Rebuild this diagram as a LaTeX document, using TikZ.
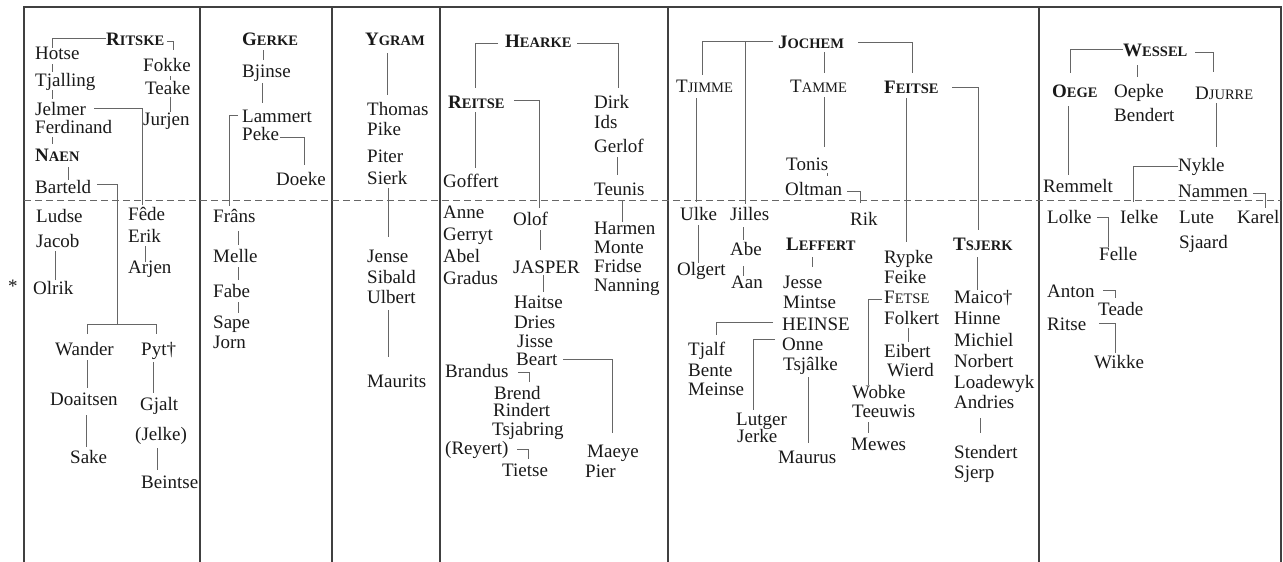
\documentclass[tikz,border=0pt]{standalone}
\usepackage{fontspec}
\setmainfont{Liberation Serif}
\newcommand\bsc[2]{\textbf{#1{\fontsize{14.5}{14.5}\selectfont #2}}}
\newcommand\rsc[2]{#1{\fontsize{14.5}{14.5}\selectfont #2}}
\newcommand\pn[3]{\node[nm] (#1) at (#2) {#3};}
\begin{document}
\begin{tikzpicture}[x=1pt,y=-1pt,
  nm/.style={anchor=base west,inner sep=0pt,font=\fontsize{19}{19}\selectfont,text=black!90},
  ln/.style={draw=black!60,line width=0.9pt},
  frame/.style={draw=black!75,line width=1.4pt},
  sep/.style={draw=black!60,line width=0.9pt,dash pattern=on 7pt off 4pt}]
\useasboundingbox (0,0) rectangle (1283,562);
% frame
\draw[frame] (24,562) -- (24,7) -- (1281,7) -- (1281,562);
\foreach \x in {200,332,440,668,1039} \draw[frame] (\x,7) -- (\x,562);
\draw[sep] (24,200) -- (1281,200);
\node[nm] (star) at (8,292) {*};
% ---------- column 1
\pn{ritske}{106,45}{\bsc{R}{ITSKE}}
\pn{hotse}{35,59}{Hotse}
\pn{tjalling}{35,86}{Tjalling}
\pn{jelmer}{35,115}{Jelmer}
\pn{ferdinand}{35,133}{Ferdinand}
\pn{naen}{35,161}{\bsc{N}{AEN}}
\pn{barteld}{35,193}{Barteld}
\pn{fokke}{143,71}{Fokke}
\pn{teake}{145,94}{Teake}
\pn{jurjen}{143,125}{Jurjen}
\pn{ludse}{36,222}{Ludse}
\pn{jacob}{36,247}{Jacob}
\pn{olrik}{33,294}{Olrik}
\pn{fede}{128,220}{Fêde}
\pn{erik}{128,242}{Erik}
\pn{arjen}{128,273}{Arjen}
\pn{wander}{55,355}{Wander}
\pn{pyt}{141,355}{Pyt†}
\pn{doaitsen}{50,405}{Doaitsen}
\pn{sake}{70,463}{Sake}
\pn{gjalt}{140,410}{Gjalt}
\pn{jelke}{135,440}{(Jelke)}
\pn{beintse}{141,488}{Beintse}
\draw[ln] (ritske.west) -| (52,48);
\draw[ln] (52,64) -- (52,72);
\draw[ln] (52,90) -- (52,99);
\draw[ln] (52,137) -- (52,144);
\draw[ln] (68,167) -- (68,180);
\draw[ln] (167,41) -| (173,50);
\draw[ln] (170,76) -- (170,80);
\draw[ln] (170,97) -- (170,112);
\draw[ln] (94,108) -| (142,205);
\draw[ln] (145,246) -- (145,262);
\draw[ln] (97,184) -| (117,324);
\draw[ln] (87,334) |- (156,324) -- (156,334);
\draw[ln] (55,251) -- (55,280);
\draw[ln] (87,360) -- (87,388);
\draw[ln] (86,415) -- (86,447);
\draw[ln] (153,362) -- (153,393);
\draw[ln] (157,448) -- (157,470);
% ---------- column 2
\pn{gerke}{242,45}{\bsc{G}{ERKE}}
\pn{bjinse}{242,77}{Bjinse}
\pn{lammert}{242,122}{Lammert}
\pn{peke}{242,140}{Peke}
\pn{doeke}{276,185}{Doeke}
\pn{frans}{213,222}{Frâns}
\pn{melle}{213,262}{Melle}
\pn{fabe}{213,297}{Fabe}
\pn{sape}{213,328}{Sape}
\pn{jorn}{213,348}{Jorn}
\draw[ln] (263,50) -- (263,60);
\draw[ln] (262,83) -- (262,103);
\draw[ln] (238,115) -| (229,206);
\draw[ln] (280,137) -| (304,165);
\draw[ln] (238,231) -- (238,245);
\draw[ln] (238,267) -- (238,280);
\draw[ln] (238,302) -- (238,313);
% ---------- column 3
\pn{ygram}{365,45}{\bsc{Y}{GRAM}}
\pn{thomas}{367,115}{Thomas}
\pn{pike}{367,135}{Pike}
\pn{piter}{367,162}{Piter}
\pn{sierk}{367,184}{Sierk}
\pn{jense}{367,262}{Jense}
\pn{sibald}{367,283}{Sibald}
\pn{ulbert}{367,303}{Ulbert}
\pn{maurits}{367,387}{Maurits}
\draw[ln] (387,53) -- (387,95);
\draw[ln] (388,188) -- (388,237);
\draw[ln] (388,310) -- (388,357);
% ---------- column 4
\pn{hearke}{505,47}{\bsc{H}{EARKE}}
\pn{reitse}{448,108}{\bsc{R}{EITSE}}
\pn{goffert}{443,187}{Goffert}
\pn{dirk}{594,108}{Dirk}
\pn{ids}{594,128}{Ids}
\pn{gerlof}{594,152}{Gerlof}
\pn{teunis}{594,195}{Teunis}
\pn{harmen}{594,234}{Harmen}
\pn{monte}{594,253}{Monte}
\pn{fridse}{594,272}{Fridse}
\pn{nanning}{594,291}{Nanning}
\pn{anne}{443,218}{Anne}
\pn{gerryt}{443,240}{Gerryt}
\pn{abel}{443,262}{Abel}
\pn{gradus}{443,284}{Gradus}
\pn{olof}{513,225}{Olof}
\pn{jasper}{513,273}{JASPER}
\pn{haitse}{514,308}{Haitse}
\pn{dries}{514,328}{Dries}
\pn{jisse}{517,347}{Jisse}
\pn{beart}{516,365}{Beart}
\pn{brandus}{445,377}{Brandus}
\pn{brend}{494,399}{Brend}
\pn{rindert}{493,416}{Rindert}
\pn{tsjabring}{492,435}{Tsjabring}
\pn{reyert}{445,454}{(Reyert)}
\pn{tietse}{502,476}{Tietse}
\pn{maeye}{587,457}{Maeye}
\pn{pier}{585,477}{Pier}
\draw[ln] (498,43) -| (475,88);
\draw[ln] (577,43) -| (618,88);
\draw[ln] (514,100) -| (539,208);
\draw[ln] (475,112) -- (475,168);
\draw[ln] (617,157) -- (617,175);
\draw[ln] (622,200) -- (622,222);
\draw[ln] (540,230) -- (540,250);
\draw[ln] (543,275) -- (543,292);
\draw[ln] (563,359) -| (612,433);
\draw[ln] (518,372) -| (529,382);
\draw[ln] (517,449) -| (528,459);
% ---------- column 5
\pn{jochem}{778,48}{\bsc{J}{OCHEM}}
\pn{tjimme}{676,92}{\rsc{T}{JIMME}}
\pn{tamme}{790,92}{\rsc{T}{AMME}}
\pn{feitse}{884,93}{\bsc{F}{EITSE}}
\pn{tonis}{786,170}{Tonis}
\pn{oltman}{785,195}{Oltman}
\pn{rik}{850,225}{Rik}
\pn{ulke}{680,220}{Ulke}
\pn{jilles}{730,220}{Jilles}
\pn{olgert}{677,275}{Olgert}
\pn{abe}{730,255}{Abe}
\pn{aan}{731,288}{Aan}
\pn{leffert}{786,250}{\bsc{L}{EFFERT}}
\pn{jesse}{783,288}{Jesse}
\pn{mintse}{783,308}{Mintse}
\pn{heinse}{782,330}{HEINSE}
\pn{tjalf}{688,355}{Tjalf}
\pn{bente}{688,376}{Bente}
\pn{meinse}{688,395}{Meinse}
\pn{onne}{782,350}{Onne}
\pn{tsjalke}{783,370}{Tsjâlke}
\pn{lutger}{736,425}{Lutger}
\pn{jerke}{737,442}{Jerke}
\pn{maurus}{778,463}{Maurus}
\pn{rypke}{884,263}{Rypke}
\pn{feike}{884,283}{Feike}
\pn{fetse}{884,303}{\rsc{F}{ETSE}}
\pn{folkert}{884,324}{Folkert}
\pn{eibert}{884,357}{Eibert}
\pn{wierd}{887,376}{Wierd}
\pn{wobke}{852,398}{Wobke}
\pn{teeuwis}{852,417}{Teeuwis}
\pn{mewes}{851,450}{Mewes}
\pn{tsjerk}{953,250}{\bsc{T}{SJERK}}
\pn{maico}{954,303}{Maico†}
\pn{hinne}{954,324}{Hinne}
\pn{michiel}{954,346}{Michiel}
\pn{norbert}{954,367}{Norbert}
\pn{loadewyk}{954,388}{Loadewyk}
\pn{andries}{954,408}{Andries}
\pn{stendert}{954,458}{Stendert}
\pn{sjerp}{954,478}{Sjerp}
\draw[ln] (773,41) -| (702,75);
\draw[ln] (745,41) -- (745,204);
\draw[ln] (824,52) -- (824,73);
\draw[ln] (858,42) -| (912,73);
\draw[ln] (696,98) -- (696,202);
\draw[ln] (824,97) -- (824,147);
\draw[ln] (827,173) -- (827,176);
\draw[ln] (847,191) -| (860,203);
\draw[ln] (698,225) -- (698,263);
\draw[ln] (743,227) -- (743,240);
\draw[ln] (743,266) -- (743,276);
\draw[ln] (812,257) -- (812,267);
\draw[ln] (773,322) -| (716,335);
\draw[ln] (775,339) -| (753,410);
\draw[ln] (808,377) -- (808,443);
\draw[ln] (906,98) -- (906,242);
\draw[ln] (882,299) -| (868,385);
\draw[ln] (908,328) -- (908,342);
\draw[ln] (868,422) -- (868,433);
\draw[ln] (952,87) -| (978,230);
\draw[ln] (977,257) -- (977,290);
\draw[ln] (980,418) -- (980,433);
% ---------- column 6
\pn{wessel}{1123,56}{\bsc{W}{ESSEL}}
\pn{oege}{1052,97}{\bsc{O}{EGE}}
\pn{oepke}{1114,97}{Oepke}
\pn{bendert}{1114,121}{Bendert}
\pn{djurre}{1195,99}{\rsc{D}{JURRE}}
\pn{remmelt}{1043,192}{Remmelt}
\pn{nykle}{1178,171}{Nykle}
\pn{nammen}{1178,197}{Nammen}
\pn{lolke}{1047,223}{Lolke}
\pn{ielke}{1120,223}{Ielke}
\pn{lute}{1179,223}{Lute}
\pn{sjaard}{1179,248}{Sjaard}
\pn{karel}{1237,223}{Karel}
\pn{felle}{1099,260}{Felle}
\pn{anton}{1047,297}{Anton}
\pn{teade}{1098,315}{Teade}
\pn{ritse}{1047,330}{Ritse}
\pn{wikke}{1094,368}{Wikke}
\draw[ln] (wessel.west) -| (1070,73);
\draw[ln] (1195,52) -| (1213,72);
\draw[ln] (1137,65) -- (1137,77);
\draw[ln] (1068,106) -- (1068,175);
\draw[ln] (1216,103) -- (1216,147);
\draw[ln] (nykle.west) -| (1133,202);
\draw[ln] (1253,193) -| (1265,208);
\draw[ln] (1097,217) -| (1108,247);
\draw[ln] (1103,290) -| (1115,298);
\draw[ln] (1099,323) -| (1115,353);
\end{tikzpicture}
\end{document}
